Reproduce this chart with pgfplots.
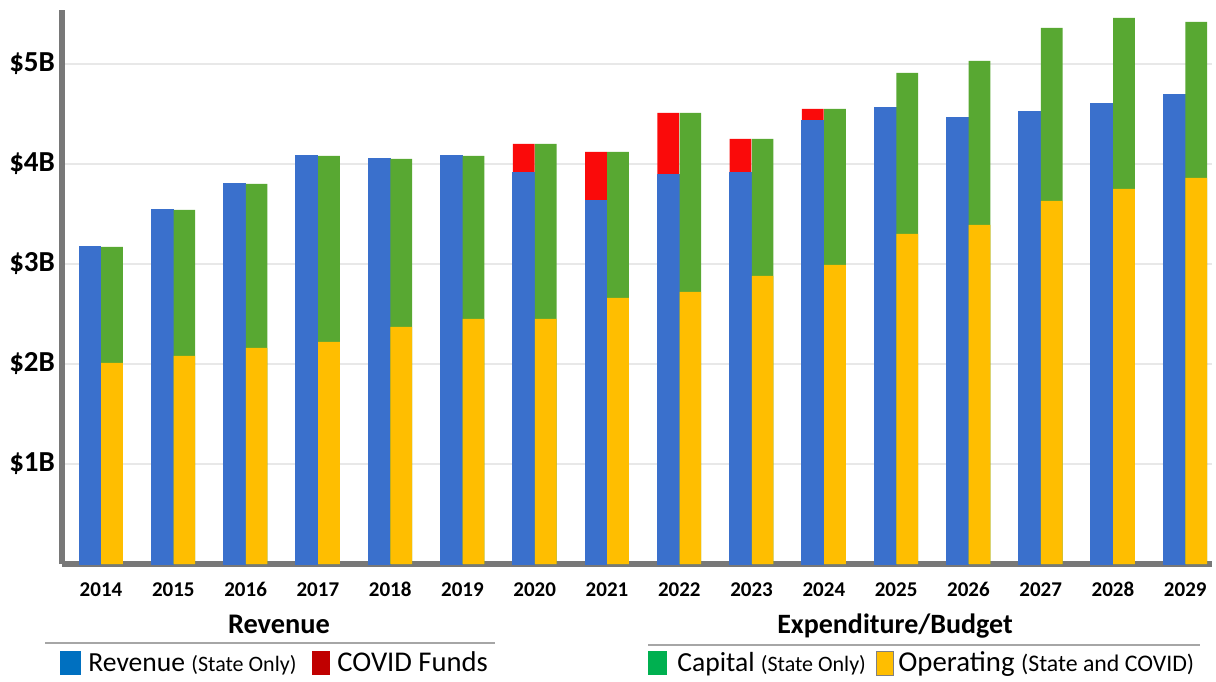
\documentclass[border=0pt]{standalone}
\usepackage{fontspec}
\setmainfont{Carlito}
\usepackage{pgfplots}
\pgfplotsset{compat=1.18}
\usepackage{pgfplotstable}

\definecolor{barblue}{RGB}{58,112,204}
\definecolor{barred}{RGB}{250,10,10}
\definecolor{bargreen}{RGB}{88,168,50}
\definecolor{baryellow}{RGB}{255,190,0}
\definecolor{legblue}{RGB}{0,112,192}
\definecolor{legred}{RGB}{192,0,0}
\definecolor{leggreen}{RGB}{0,176,80}
\definecolor{axgray}{RGB}{120,120,120}

% x: 0 = 2014 ... 15 = 2029; values in $B
% rev = revenue (state only), revtot = revenue + COVID funds
% exptot = capital + operating, oper = operating
\pgfplotstableread{
x rev revtot exptot oper
0 3.17 3.17 3.17 2.01
1 3.54 3.54 3.54 2.08
2 3.80 3.80 3.80 2.16
3 4.08 4.08 4.08 2.22
4 4.05 4.05 4.05 2.37
5 4.08 4.08 4.08 2.45
6 3.91 4.20 4.20 2.45
7 3.63 4.12 4.12 2.66
8 3.89 4.51 4.51 2.72
9 3.91 4.25 4.25 2.88
10 4.43 4.55 4.55 2.99
11 4.56 4.56 4.91 3.30
12 4.46 4.46 5.03 3.39
13 4.52 4.52 5.36 3.63
14 4.60 4.60 5.46 3.75
15 4.69 4.69 5.42 3.86
}\budget

\begin{document}
\begin{tikzpicture}
\path[use as bounding box] (0,0) rectangle (608pt,340.5pt);
\begin{axis}[
    at={(31pt,58.5pt)}, anchor=south west,
    scale only axis, width=575pt, height=277pt,
    ybar, bar width=0.3,
    xmin=-0.54, xmax=15.37,
    ymin=0, ymax=5.54,
    axis x line*=bottom, axis y line*=left,
    axis line style={axgray, line width=2.6pt, -},
    xtick={0,...,15},
    xticklabels={2014,2015,2016,2017,2018,2019,2020,2021,2022,2023,2024,2025,2026,2027,2028,2029},
    ytick={1,2,3,4,5},
    yticklabels={\$1B,\$2B,\$3B,\$4B,\$5B},
    major tick length=0pt,
    xticklabel style={font=\bfseries\fontsize{10.5}{12}\selectfont, text height=7.5pt, text depth=0pt, yshift=-5pt},
    yticklabel style={font=\bfseries\fontsize{14.5}{16}\selectfont},
    ymajorgrids, grid style={gray!18, line width=0.6pt},
]
\addplot[fill=barred, draw=none, bar shift=-0.153] table[x=x, y=revtot] {\budget};
\addplot[fill=barblue, draw=barblue, line width=0.6pt, bar shift=-0.153] table[x=x, y=rev] {\budget};
\addplot[fill=bargreen, draw=none, bar shift=0.153] table[x=x, y=exptot] {\budget};
\addplot[fill=baryellow, draw=none, bar shift=0.153] table[x=x, y=oper] {\budget};
\end{axis}

% section headings and rules
\node[font=\bfseries\fontsize{14.2}{16}\selectfont] at (139.5pt,28.5pt) {Revenue};
\draw[gray!70, line width=0.6pt] (22.5pt,19pt) -- (247.5pt,19pt);
\node[font=\bfseries\fontsize{14}{16}\selectfont] at (447.5pt,27.5pt) {Expenditure/Budget};
\draw[gray!70, line width=0.6pt] (324pt,18pt) -- (600pt,18pt);

% legend
\fill[legblue] (30pt,3pt) rectangle (40.5pt,15pt);
\node[anchor=base west, inner sep=0pt] at (44pt,5pt) {\fontsize{13.8}{15}\selectfont Revenue \fontsize{11}{12}\selectfont(State Only)};
\fill[legred] (156pt,3pt) rectangle (165pt,15pt);
\node[anchor=base west, inner sep=0pt] at (168.5pt,5pt) {\fontsize{14.3}{15}\selectfont COVID Funds};
\fill[leggreen] (324pt,3pt) rectangle (333.5pt,15pt);
\node[anchor=base west, inner sep=0pt] at (338.5pt,5pt) {\fontsize{13.8}{15}\selectfont Capital \fontsize{11}{12}\selectfont(State Only)};
\filldraw[fill=baryellow, draw=gray, line width=0.4pt] (438pt,3pt) rectangle (446.5pt,15pt);
\node[anchor=base west, inner sep=0pt] at (449pt,5pt) {\fontsize{14.4}{15}\selectfont Operating \fontsize{11.9}{12}\selectfont(State and COVID)};
\end{tikzpicture}
\end{document}
